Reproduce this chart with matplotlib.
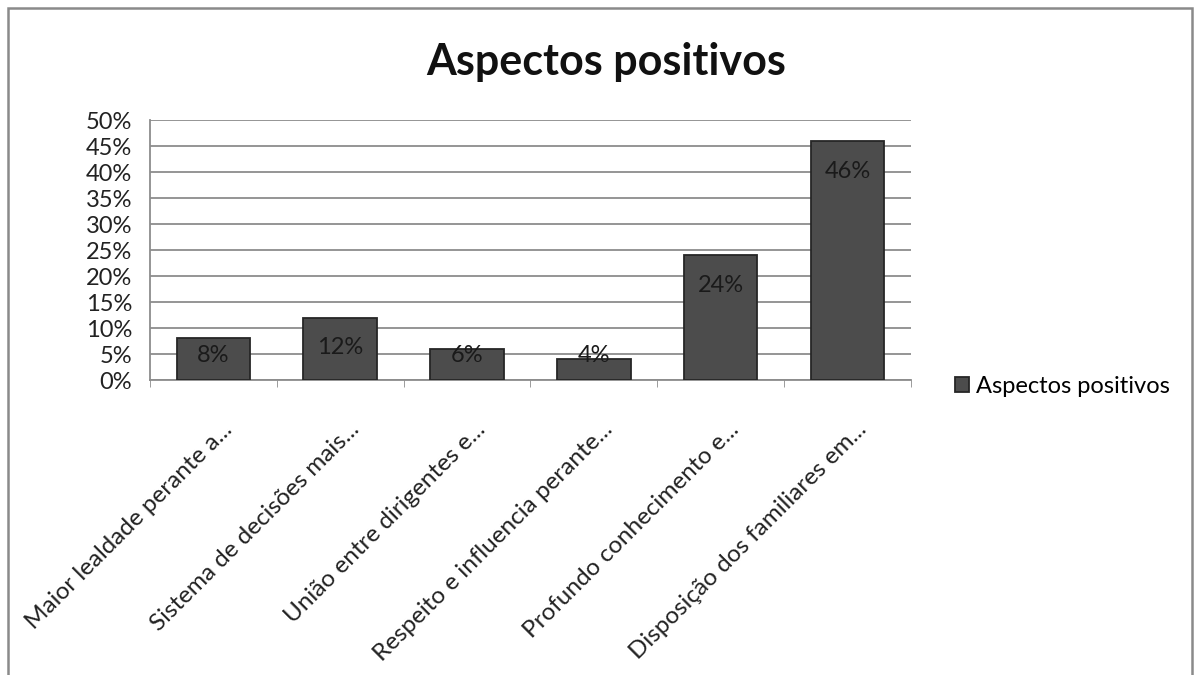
import matplotlib
matplotlib.use('Agg')
import matplotlib.pyplot as plt
import matplotlib.transforms as mtransforms
import numpy as np
from matplotlib.patches import Rectangle

# ── Dados ────────────────────────────────────────────────────────────────
categorias = ['Maior lealdade perante a...',
              'Sistema de decisões mais...',
              'União entre dirigentes e...',
              'Respeito e influencia perante...',
              'Profundo conhecimento e...',
              'Disposição dos familiares em...']
valores = [8, 12, 6, 4, 24, 46]
rotulos = ['8%', '12%', '6%', '4%', '24%', '46%']
yticks = [0, 5, 10, 15, 20, 25, 30, 35, 40, 45, 50]
serie = 'Aspectos positivos'

plt.rcParams['font.family'] = ['Lato', 'DejaVu Sans']

fig = plt.figure(figsize=(12, 6.75), dpi=100)
ax = fig.add_axes([0.125, 0.437, 0.634, 0.385])

x = np.arange(len(categorias))
ax.bar(x, valores, width=0.58, color='#4c4c4c', edgecolor='#262626',
       linewidth=1.3, zorder=3, label=serie)

# rótulos de valor: perto do topo, dentro da barra
for xi, v, r in zip(x, valores, rotulos):
    ax.text(xi, max(v - 5.8, 4.8), r, ha='center', va='center',
            fontsize=17, color='#1a1a1a', zorder=4)

ax.set_xlim(-0.5, len(categorias) - 0.5)
ax.set_ylim(0, 50)
ax.set_yticks(yticks)
ax.set_yticklabels([f'{t}%' for t in yticks], fontsize=17, color='#222222')
ax.set_xticks(x)
ax.set_xticklabels(categorias, rotation=45, ha='right', rotation_mode='anchor',
                   fontsize=17.5, color='#222222')
ax.set_xticks(np.arange(-0.5, len(categorias)), minor=True)
ax.tick_params(axis='y', length=0, pad=13)
ax.tick_params(axis='x', which='major', length=0, pad=28)
ax.tick_params(axis='x', which='minor', length=5, color='#8c8c8c')

# desloca um pouco os rótulos inclinados para a direita
desloc = mtransforms.ScaledTranslation(8 / 100, 0, fig.dpi_scale_trans)
for lbl in ax.get_xticklabels():
    lbl.set_transform(lbl.get_transform() + desloc)

ax.grid(axis='y', color='#8c8c8c', linewidth=1.3, zorder=0)
for lado in ['top', 'right']:
    ax.spines[lado].set_visible(False)
ax.spines['left'].set_color('#8c8c8c')
ax.spines['bottom'].set_color('#8c8c8c')
ax.spines['left'].set_linewidth(1.3)
ax.spines['bottom'].set_linewidth(1.3)

fig.text(0.505, 0.908, serie, ha='center', va='center', fontsize=31,
         fontweight='bold', color='#111111')

leg = fig.legend(loc='center left', bbox_to_anchor=(0.778, 0.427),
                 frameon=False, fontsize=17, handlelength=0.6,
                 handleheight=0.6, handletextpad=0.3)

# moldura do gráfico
fig.patches.append(Rectangle((0.007, -0.05), 0.986, 1.038,
                             transform=fig.transFigure, fill=False,
                             edgecolor='#8a8a8a', linewidth=1.8))

fig.savefig('out.png', dpi=100)
